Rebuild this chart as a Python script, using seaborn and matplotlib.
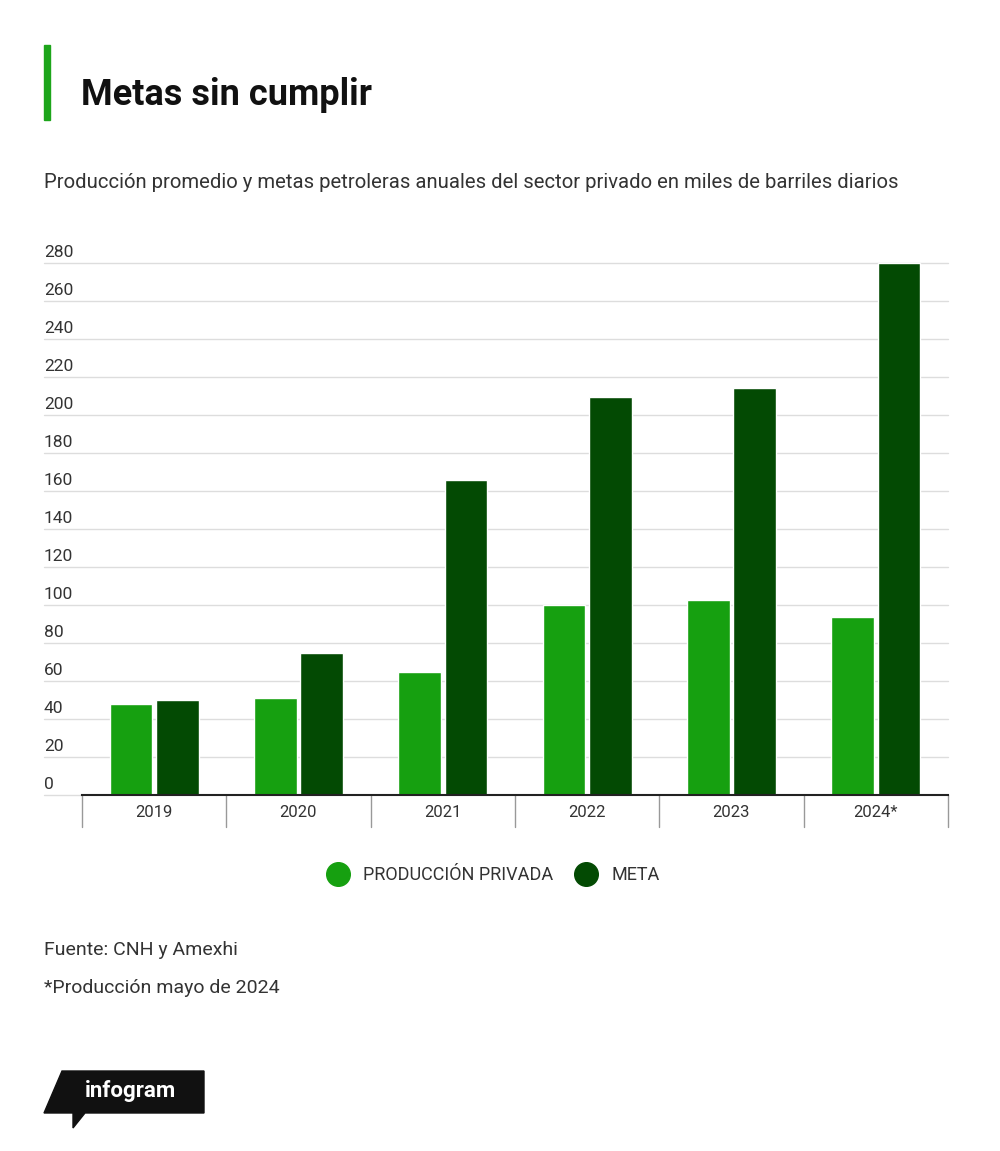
import matplotlib.pyplot as plt
import matplotlib.patches as mpatches
import seaborn as sns
import pandas as pd

years = ["2019", "2020", "2021", "2022", "2023", "2024*"]
produccion = [48, 51, 65, 100, 102.5, 93.5]
meta = [50, 75, 166, 209.5, 214, 280]
yticks = list(range(0, 281, 20))

light = "#16A010"
dark = "#034A03"

sns.set_theme(style="white")
plt.rcParams["font.family"] = ["Roboto", "DejaVu Sans"]

df = pd.DataFrame({
    "year": years * 2,
    "value": produccion + meta,
    "serie": ["PRODUCCIÓN PRIVADA"] * len(years) + ["META"] * len(years),
})

fig = plt.figure(figsize=(10, 11.51), dpi=100)
ax = fig.add_axes([0.082, 1 - 795 / 1151, 0.866, (795 - 263) / 1151])
sns.barplot(data=df, x="year", y="value", hue="serie", palette=[light, dark],
            width=0.64, gap=0.08, ax=ax, legend=False, saturation=1, zorder=3)
ax.set_ylim(0, 280)
ax.set_xlim(-0.5, 5.5)
ax.set_xlabel("")
ax.set_ylabel("")
ax.set_yticks(yticks)
ax.set_yticklabels([])
ax.tick_params(axis="y", length=0)
for s in ["top", "right", "left"]:
    ax.spines[s].set_visible(False)
ax.spines["bottom"].set_color("#222222")
ax.spines["bottom"].set_linewidth(1.5)
ax.spines["bottom"].set_zorder(4)

trans = ax.get_yaxis_transform()
for v in yticks:
    if v > 0:
        ax.plot([-0.044, 1.0], [v, v], transform=trans, color="#dddddd",
                lw=1, clip_on=False, zorder=1)
    ax.text(-0.044, v + 1.5, str(v), transform=trans, ha="left", va="bottom",
            fontsize=12.5, color="#333333")
ax.plot([-0.044, 0], [0, 0], transform=trans, color="#dddddd", lw=1, clip_on=False)

# category separators
ax.set_xticks(range(len(years)))
ax.set_xticklabels(years, fontsize=12, color="#333333")
ax.tick_params(axis="x", length=0, pad=7)
xt = ax.get_xaxis_transform()
for b in [i - 0.5 for i in range(len(years) + 1)]:
    ax.plot([b, b], [0, -0.06], transform=xt, color="#999999", lw=1, clip_on=False)

# title block
fig.patches.append(mpatches.Rectangle((0.044, 1 - 120 / 1151), 0.006, 75 / 1151,
                                      transform=fig.transFigure, color="#1DA51A"))
fig.text(0.081, 1 - 95 / 1151, "Metas sin cumplir", fontsize=26, fontweight="bold",
         va="center", color="#111111")
fig.text(0.044, 1 - 183 / 1151,
         "Producción promedio y metas petroleras anuales del sector privado en miles de barriles diarios",
         fontsize=14.6, va="center", color="#333333")

# legend
handles = [plt.Line2D([], [], marker="o", ls="", ms=17, color=c) for c in (light, dark)]
fig.legend(handles, ["PRODUCCIÓN PRIVADA", "META"], loc="center",
           bbox_to_anchor=(0.49, 1 - 875 / 1151), ncol=2, frameon=False,
           fontsize=13, handletextpad=0.4, columnspacing=0.8,
           labelcolor="#333333")

fig.text(0.044, 1 - 950 / 1151, "Fuente: CNH y Amexhi", fontsize=14, va="center", color="#333333")
fig.text(0.044, 1 - 988 / 1151, "*Producción mayo de 2024", fontsize=14, va="center", color="#333333")

# infogram badge
H = 1151
poly = [(0.062, 1 - 1071 / H), (0.204, 1 - 1071 / H), (0.204, 1 - 1113 / H),
        (0.085, 1 - 1113 / H), (0.073, 1 - 1128 / H), (0.073, 1 - 1113 / H),
        (0.044, 1 - 1113 / H)]
fig.patches.append(mpatches.Polygon(poly, closed=True, transform=fig.transFigure,
                                    color="#111111"))
fig.text(0.130, 1 - 1091 / H, "infogram", fontsize=16, fontweight="bold",
         color="white", ha="center", va="center")

fig.savefig("out.png", dpi=100, facecolor="white")
